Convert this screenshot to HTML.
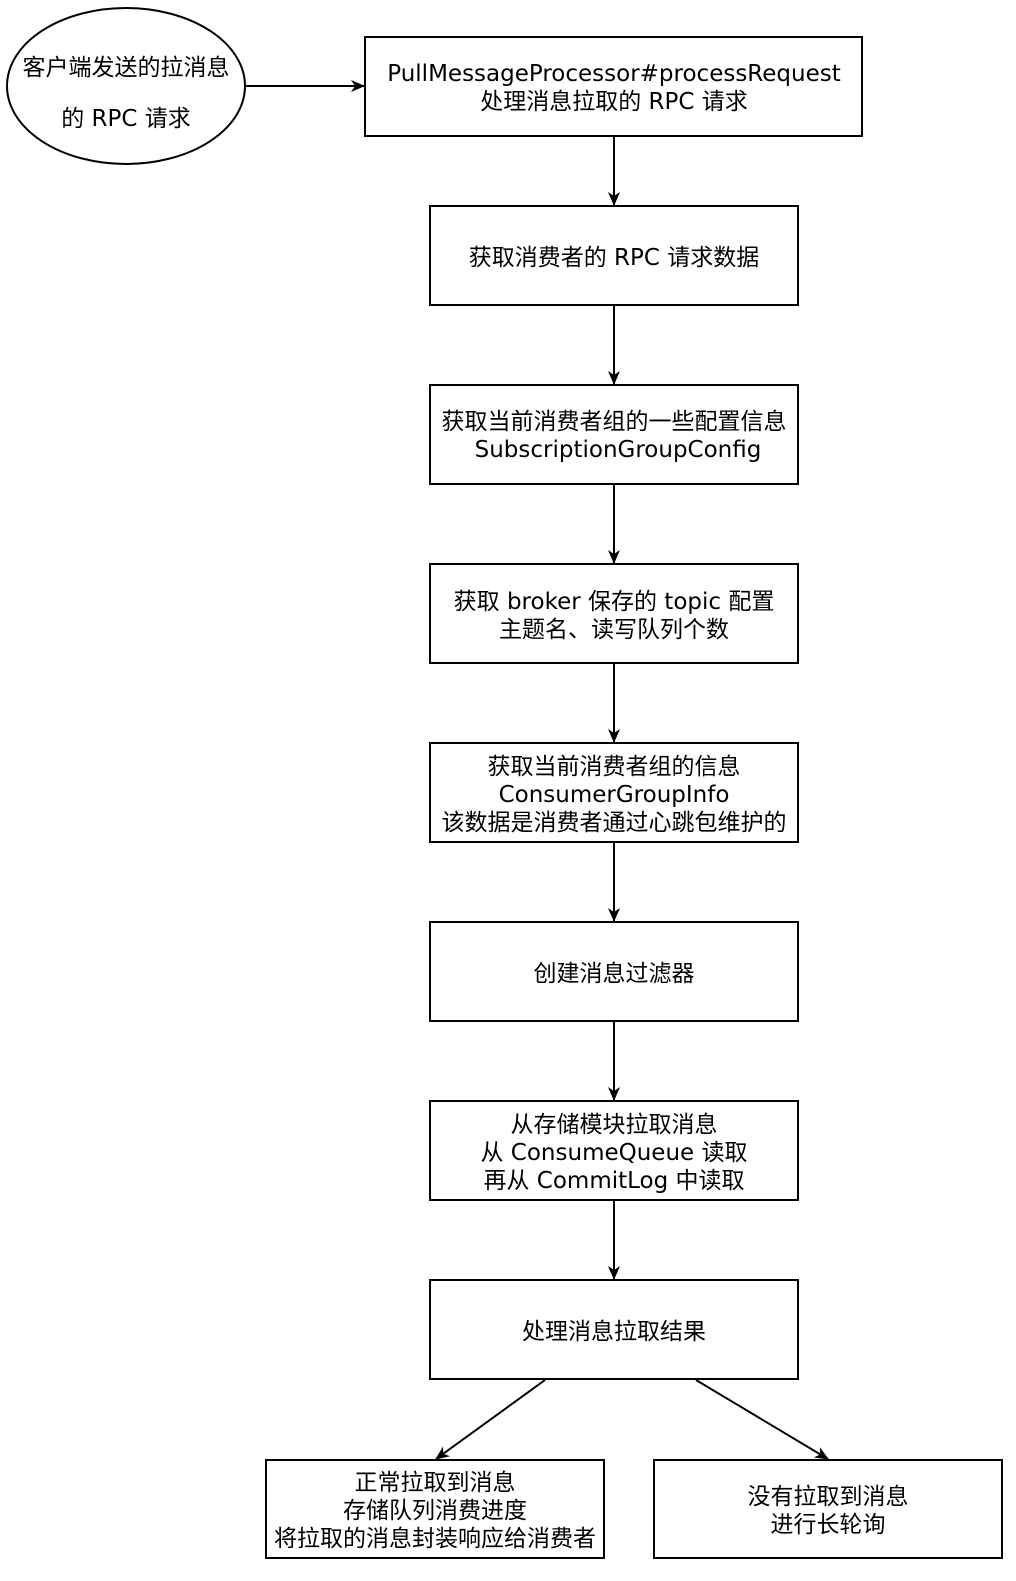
<!DOCTYPE html>
<html><head><meta charset="utf-8"><style>
html,body{margin:0;padding:0;background:#fff;}
svg text{font-family:"DejaVu Sans","Noto Sans CJK SC",sans-serif;font-size:23px;fill:#000;text-anchor:middle;}
</style></head><body>
<svg width="1016" height="1576" viewBox="0 0 1016 1576" xmlns="http://www.w3.org/2000/svg">
<defs><marker id="a" markerWidth="14" markerHeight="12" refX="13" refY="6" orient="auto" markerUnits="userSpaceOnUse"><path d="M0,0 L14,6 L0,12 L4,6 Z" fill="#000"/></marker></defs>
<g fill="#fff" stroke="#000" stroke-width="2">
<ellipse cx="126" cy="86" rx="119" ry="78"/>
<rect x="365" y="37" width="497" height="99"/>
<rect x="430" y="206" width="368" height="99"/>
<rect x="430" y="385" width="368" height="99"/>
<rect x="430" y="564" width="368" height="99"/>
<rect x="430" y="743" width="368" height="99"/>
<rect x="430" y="922" width="368" height="99"/>
<rect x="430" y="1101" width="368" height="99"/>
<rect x="430" y="1280" width="368" height="99"/>
<rect x="266" y="1460" width="338" height="98"/>
<rect x="654" y="1460" width="348" height="98"/>
</g>
<g stroke="#000" stroke-width="2" marker-end="url(#a)">
<line x1="245" y1="86" x2="364" y2="86"/>
<line x1="614" y1="136" x2="614" y2="205"/>
<line x1="614" y1="305" x2="614" y2="384"/>
<line x1="614" y1="484" x2="614" y2="563"/>
<line x1="614" y1="663" x2="614" y2="742"/>
<line x1="614" y1="842" x2="614" y2="921"/>
<line x1="614" y1="1021" x2="614" y2="1100"/>
<line x1="614" y1="1200" x2="614" y2="1279"/>
<line x1="545" y1="1380" x2="436" y2="1459"/>
<line x1="696" y1="1380" x2="828" y2="1459"/>
</g>
<text x="126" y="75">客户端发送的拉消息</text>
<text x="126" y="126">的 RPC 请求</text>
<text x="614" y="81">PullMessageProcessor#processRequest</text>
<text x="614" y="109">处理消息拉取的 RPC 请求</text>
<text x="614" y="265">获取消费者的 RPC 请求数据</text>
<text x="614" y="429">获取当前消费者组的一些配置信息</text>
<text x="618" y="457">SubscriptionGroupConfig</text>
<text x="614" y="609">获取 broker 保存的 topic 配置</text>
<text x="614" y="637">主题名、读写队列个数</text>
<text x="614" y="774">获取当前消费者组的信息</text>
<text x="614" y="802">ConsumerGroupInfo</text>
<text x="614" y="830">该数据是消费者通过心跳包维护的</text>
<text x="614" y="981">创建消息过滤器</text>
<text x="614" y="1132">从存储模块拉取消息</text>
<text x="614" y="1160">从 ConsumeQueue 读取</text>
<text x="614" y="1188">再从 CommitLog 中读取</text>
<text x="614" y="1339">处理消息拉取结果</text>
<text x="435" y="1490">正常拉取到消息</text>
<text x="435" y="1518">存储队列消费进度</text>
<text x="435" y="1546">将拉取的消息封装响应给消费者</text>
<text x="828" y="1504">没有拉取到消息</text>
<text x="828" y="1532">进行长轮询</text>
</svg>
</body></html>
